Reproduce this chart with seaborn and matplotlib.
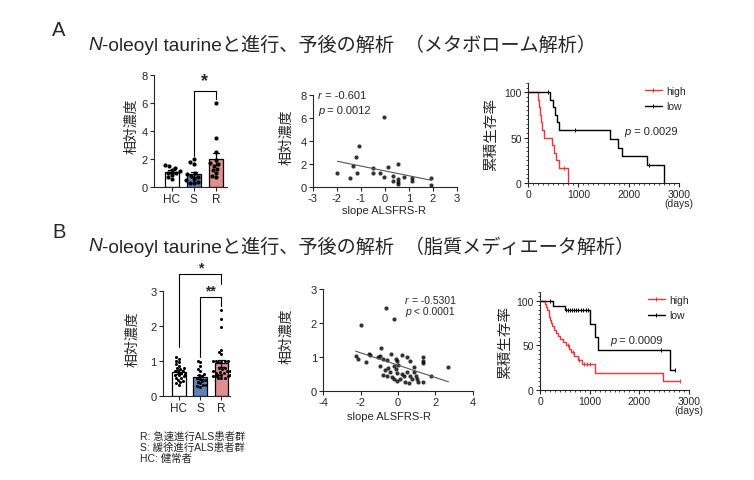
import numpy as np
import pandas as pd
import seaborn as sns
import matplotlib
matplotlib.use("Agg")
from matplotlib import pyplot as plt
from matplotlib.lines import Line2D
from matplotlib.ticker import MultipleLocator

# ---- data ----
groups = ["HC", "S", "R"]
bar_colors = {"HC": "white", "S": "#4d82c3", "R": "#ee8080"}

# A: metabolome, relative level per group
a_hc = [1.55, 1.45, 1.35, 1.2, 1.1, 1.0, 0.95, 0.85, 0.7, 0.55]
a_s = [1.95, 1.75, 1.6, 1.0, 0.9, 0.8, 0.7, 0.55, 0.45, 0.35, 0.3, 0.25]
a_r = [6.0, 3.5, 2.5, 1.9, 1.7, 1.6, 1.5, 1.3, 1.2, 1.0, 0.8, 0.7]

# A: slope ALSFRS-R vs relative level
a_slope = [-1.98, -1.47, -1.33, -1.19, -1.16, -1.09, -0.49, -0.49, -0.21, -0.04, -0.04, 0.11,
           0.32, 0.32, 0.56, 0.56, 0.56, 0.56, 0.80, 1.12, 1.12, 1.93, 1.93]
a_level = [1.19, 0.78, 1.77, 2.55, 1.22, 3.54, 1.62, 1.19, 1.16, 6.09, 0.87, 1.71,
           0.96, 0.52, 1.94, 0.67, 0.38, 0.20, 0.87, 0.72, 0.52, 0.78, 0.14]

# A: survival (days, 1 = death, 0 = censored)
a_high_days = [205, 220, 240, 260, 280, 320, 470, 510, 560, 620, 720, 800]
a_high_event = [1, 1, 1, 1, 1, 1, 1, 1, 1, 1, 0, 1]
a_low_days = [400, 440, 490, 540, 580, 625, 940, 1630, 1780, 1860, 2370, 2400, 2700]
a_low_event = [0, 1, 1, 1, 1, 1, 0, 1, 1, 1, 1, 0, 1]

# B: lipid mediator, relative level per group
b_hc = [1.1, 1.05, 1.0, 0.95, 0.9, 0.85, 0.8, 0.78, 0.75, 0.72, 0.7, 0.68,
        0.65, 0.62, 0.6, 0.58, 0.55, 0.52, 0.5, 0.45, 0.42, 0.38, 0.35, 0.3]
b_s = [1.0, 0.95, 0.85, 0.75, 0.7, 0.62, 0.58, 0.55, 0.5, 0.48, 0.45, 0.42,
       0.4, 0.35, 0.3, 0.28, 0.25, 0.3]
b_r = [2.45, 2.2, 1.95, 1.3, 1.25, 1.2, 1.0, 0.98, 0.95, 1.0, 1.0, 0.95,
       0.8, 0.78, 0.75, 0.72, 0.7, 0.68, 0.65, 0.6, 0.55, 0.52, 0.5, 0.7,
       0.65, 0.6, 0.55, 0.6, 0.55, 0.5]

b_slope = [-2.0, -0.64, -0.2, -2.27, -2.16, -1.71, -1.54, -1.5, -0.91, -1.05, -0.96, -0.82,
           -0.6, -0.38, -0.11, -0.07, 0.2, 0.46, 0.64, 1.32, 1.32, 1.32, -0.96, -0.7,
           -0.52, -0.43, -0.21, -0.11, 0.02, -0.04, -0.82, -0.6, -0.34, -0.21, -0.04, 0.2,
           0.32, 0.46, 0.64, 0.73, 0.86, 0.86, 0.96, 1.0, 1.09, 0.38, 0.61, 1.32,
           1.75, 2.7, 0.11]
b_level = [1.94, 2.45, 2.11, 1.03, 0.93, 0.86, 1.08, 1.05, 1.26, 1.0, 1.03, 0.93,
           0.91, 1.08, 0.93, 0.88, 1.05, 0.98, 0.88, 0.98, 0.88, 0.81, 0.72, 0.62,
           0.66, 0.56, 0.72, 0.64, 0.76, 0.52, 0.46, 0.44, 0.41, 0.34, 0.29, 0.49,
           0.44, 0.54, 0.44, 0.34, 0.56, 0.69, 0.44, 0.34, 0.25, 0.25, 0.23, 0.25,
           0.44, 0.69, 0.34]

b_high_days = [105, 130, 150, 175, 190, 210, 230, 250, 290, 320, 360, 400, 460, 530,
               560, 580, 630, 660, 690, 760, 790, 850, 880, 940, 1000, 1110, 2480, 2820]
b_high_event = [1, 1, 1, 1, 1, 1, 1, 1, 1, 1, 1, 1, 1, 1,
                0, 1, 1, 0, 1, 1, 0, 1, 0, 0, 0, 1, 1, 0]
b_low_days = [200, 265, 500, 530, 570, 610, 650, 690, 730, 770, 820, 870, 920, 970,
              1015, 1115, 1160, 2430, 2620, 2720]
b_low_event = [0, 1, 1, 0, 0, 0, 0, 0, 0, 0, 0, 0, 0, 0,
               1, 1, 1, 0, 1, 0]

km_red = "#f0323c"

sns.set_style("ticks")
plt.rcParams["font.family"] = ["Liberation Sans", "Noto Sans CJK JP", "DejaVu Sans"]
plt.rcParams["axes.unicode_minus"] = False
plt.rcParams["axes.linewidth"] = 0.8

W, H = 754, 481
fig = plt.figure(figsize=(W / 100, H / 100), dpi=100)

bg = fig.add_axes([0, 0, 1, 1])
bg.set_xlim(0, W)
bg.set_ylim(H, 0)
bg.axis("off")


def px_axes(left, top, right, bottom):
    return fig.add_axes([left / W, 1 - bottom / H, (right - left) / W, (bottom - top) / H])


def italic_head(ax, x, y, head, rest, size, transform):
    t = ax.text(x, y, head, fontsize=size, style="italic", va="center", ha="left",
                transform=transform)
    ax.annotate(rest, xy=(1, 0.5), xycoords=t, va="center", ha="left", fontsize=size)


def style_ax(ax, labelsize=8):
    sns.despine(ax=ax)
    ax.tick_params(labelsize=labelsize, length=3, width=0.8, pad=1.5)
    ax.tick_params(which="minor", length=1.6, width=0.6)


def bar_panel(ax, values, xlim, ylim, ystep, dot, brackets, label_x):
    df = pd.concat([pd.DataFrame({"group": g, "value": v}) for g, v in zip(groups, values)])
    sns.barplot(data=df, x="group", y="value", hue="group", order=groups, hue_order=groups,
                palette=bar_colors, errorbar="se", capsize=0.3, width=0.64,
                edgecolor="black", linewidth=0.9, legend=False,
                err_kws={"color": "black", "linewidth": 0.9}, ax=ax)
    sns.swarmplot(data=df, x="group", y="value", order=groups, color="black",
                  size=dot, ax=ax, warn_thresh=1)
    for i, j, top, lf, rf, mark, my, fs in brackets:
        ax.plot([i, i, j, j], [lf, top, top, rf], color="black", lw=0.8, clip_on=False)
        ax.text((i + j) / 2, my, mark, ha="center", va="center", fontsize=fs,
                fontweight="bold", clip_on=False)
    ax.set_xlim(*xlim)
    ax.set_ylim(*ylim)
    ax.yaxis.set_major_locator(MultipleLocator(ystep))
    ax.set_xlabel("")
    ax.set_ylabel("相対濃度", fontsize=10)
    ax.yaxis.set_label_coords(label_x, 0.55)
    style_ax(ax)
    ax.tick_params(axis="x", labelsize=8.5)


def scatter_panel(ax, x, y, xlim, xticks, ylim, yticks, texts, label_x, xlabel_x):
    sns.regplot(x=x, y=y, ax=ax, ci=None, color="black",
                scatter_kws={"s": 9, "linewidths": 0},
                line_kws={"color": "#555555", "lw": 0.8})
    ax.set_xlim(*xlim)
    ax.set_ylim(*ylim)
    ax.set_xticks(xticks)
    ax.set_yticks(yticks)
    ax.set_xlabel("slope ALSFRS-R", fontsize=8, labelpad=1)
    ax.xaxis.set_label_coords(xlabel_x, -0.2)
    ax.set_ylabel("相対濃度", fontsize=10)
    ax.yaxis.set_label_coords(label_x, 0.55)
    for tx, ty, head, rest, fs in texts:
        italic_head(ax, tx, ty, head, rest, fs, ax.transAxes)
    style_ax(ax)


def km_steps(days, events):
    days = np.asarray(days)
    events = np.asarray(events)
    xs, ys = [0], [100.0]
    cx, cy = [], []
    at_risk = len(days)
    surv = 1.0
    for t in np.unique(days):
        here = days == t
        d = events[here].sum()
        if d:
            surv *= (at_risk - d) / at_risk
        xs.append(t)
        ys.append(surv * 100)
        if here.sum() - d:
            cx.append(t)
            cy.append(surv * 100)
        at_risk -= here.sum()
    return xs, ys, cx, cy


def km_panel(ax, curves, p_text, p_pos, legend_anchor, label_x):
    handles = []
    for label, days, events, color in curves:
        xs, ys, cx, cy = km_steps(days, events)
        ax.step(xs, ys, where="post", color=color, lw=1)
        ax.plot(cx, cy, ls="none", marker="|", ms=2.8, mew=0.7, color=color)
        handles.append(Line2D([], [], color=color, lw=1, marker="|", ms=2.8, mew=0.7,
                              label=label))
    ax.legend(handles=handles, loc="upper left", bbox_to_anchor=legend_anchor,
              frameon=False, fontsize=7.5, handlelength=1.6, handletextpad=0.4,
              labelspacing=0.5, borderpad=0, borderaxespad=0)
    ax.set_xlim(0, 3000)
    ax.set_ylim(0, 110)
    ax.set_xticks([0, 1000, 2000, 3000], labels=["0", "1000", "2000", "3000\n(days)"])
    ax.set_yticks([0, 50, 100])
    ax.xaxis.set_minor_locator(MultipleLocator(100))
    ax.yaxis.set_minor_locator(MultipleLocator(5))
    ax.set_ylabel("累積生存率", fontsize=10.5)
    ax.yaxis.set_label_coords(label_x, 0.5)
    italic_head(ax, p_pos[0], p_pos[1], "p", p_text, 8, ax.transAxes)
    style_ax(ax, labelsize=7.5)
    for lab in ax.get_xticklabels():
        lab.set_linespacing(0.9)


# ---- titles ----
bg.text(52, 31, "A", fontsize=14.5, va="center")
italic_head(bg, 88, 45, "N", "-oleoyl taurineと進行、予後の解析  （メタボローム解析）", 13.8,
            bg.transData)
bg.text(52, 233, "B", fontsize=14.5, va="center")
italic_head(bg, 88, 247, "N", "-oleoyl taurineと進行、予後の解析  （脂質メディエータ解析）", 13.8,
            bg.transData)

# ---- row A ----
ax = px_axes(154, 75.7, 227, 187.7)
bar_panel(ax, [a_hc, a_s, a_r], (-0.8, 2.5), (0, 8), 2, 3,
          [(1, 2, 6.86, 2.2, 6.26, "*", 7.6, 13)], -0.22)

ax = px_axes(313, 95.7, 457, 187.7)
scatter_panel(ax, a_slope, a_level, (-3, 3), range(-3, 4), (0, 8), [0, 2, 4, 6, 8],
              [(0.035, 1.0, "r", " = -0.601", 8), (0.035, 0.83, "p", " = 0.0012", 8)],
              -0.14, 0.49)

ax = px_axes(528, 84, 679, 184)
km_panel(ax, [("high", a_high_days, a_high_event, km_red),
              ("low", a_low_days, a_low_event, "black")],
         " = 0.0029", (0.64, 0.52), (0.775, 0.97), -0.2)

# ---- row B ----
ax = px_axes(163, 291.7, 230, 396.7)
bar_panel(ax, [b_hc, b_s, b_r], (-0.75, 2.4), (0, 3), 1, 2.2,
          [(0, 2, 3.48, 1.38, 3.19, "*", 3.67, 10),
           (1, 2, 2.82, 1.1, 2.57, "**", 3.0, 10)], -0.36)

ax = px_axes(323.3, 290, 472.7, 391.7)
scatter_panel(ax, b_slope, b_level, (-4, 4), [-4, -2, 0, 2, 4], (0, 3), [0, 1, 2, 3],
              [(0.547, 0.89, "r", " = -0.5301", 7.5), (0.547, 0.78, "p", " < 0.0001", 7.5)],
              -0.2, 0.44)

ax = px_axes(540, 293, 689, 391)
km_panel(ax, [("high", b_high_days, b_high_event, km_red),
              ("low", b_low_days, b_low_event, "black")],
         " = 0.0009", (0.47, 0.51), (0.725, 0.97), -0.19)

# ---- group notes ----
bg.text(140, 437, "R: 急速進行ALS患者群", fontsize=7.5, va="center")
bg.text(140, 448, "S: 緩徐進行ALS患者群", fontsize=7.5, va="center")
bg.text(140, 459, "HC: 健常者", fontsize=7.5, va="center")

fig.savefig("out.png", dpi=100)
